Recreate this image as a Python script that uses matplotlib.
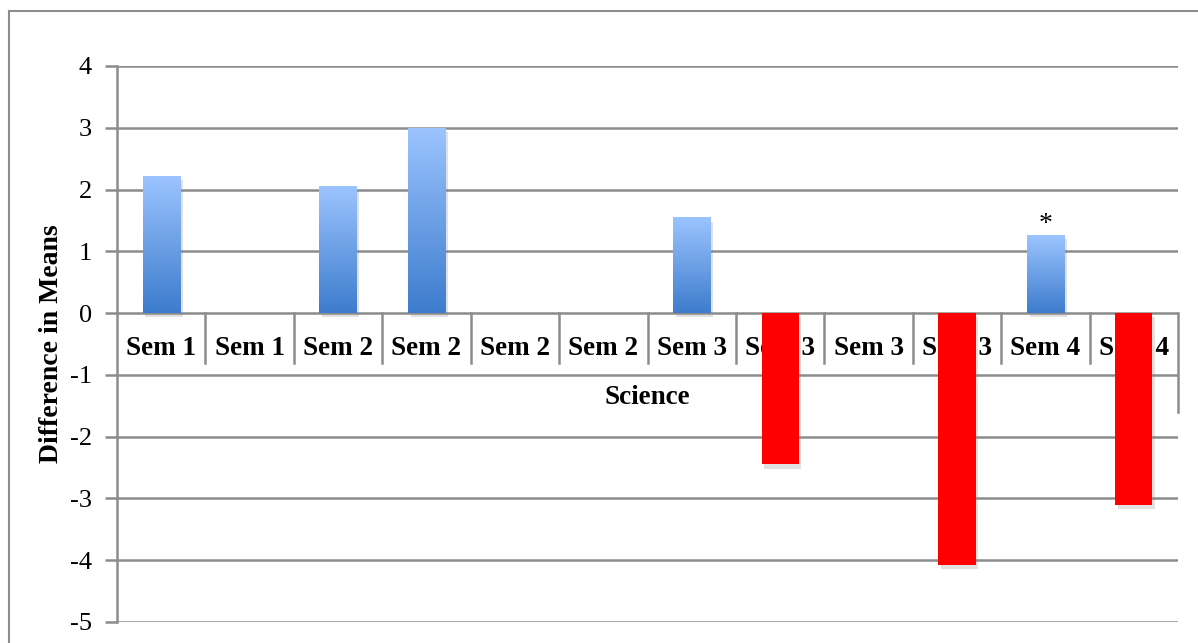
import matplotlib
matplotlib.use('Agg')
import matplotlib.pyplot as plt
import matplotlib.patheffects as pe
import numpy as np
from matplotlib.colors import LinearSegmentedColormap

categories = ['Sem 1', 'Sem 1', 'Sem 2', 'Sem 2', 'Sem 2', 'Sem 2',
              'Sem 3', 'Sem 3', 'Sem 3', 'Sem 3', 'Sem 4', 'Sem 4']
values = [2.22, 0, 2.05, 3.0, 0, 0, 1.55, -2.45, 0, -4.08, 1.26, -3.11]
group_label = 'Science'
starred = [10]
yticks = [-5, -4, -3, -2, -1, 0, 1, 2, 3, 4]

plt.rcParams['font.family'] = ['Liberation Serif', 'DejaVu Serif']
grid_c = '#8c8c8c'

fig = plt.figure(figsize=(11.98, 6.43), dpi=100)
ax = fig.add_axes([117 / 1198, 1 - 622 / 643, 1061 / 1198, 556 / 643])

# outer chart frame (top + left edges visible)
fig.add_artist(plt.Line2D([9 / 1198, 9 / 1198], [0, 1 - 11 / 643], color=grid_c, lw=1.5,
                          transform=fig.transFigure))
fig.add_artist(plt.Line2D([9 / 1198, 1], [1 - 11 / 643, 1 - 11 / 643], color=grid_c, lw=1.5,
                          transform=fig.transFigure))

ax.set_xlim(-0.5, len(categories) - 0.5)
ax.set_ylim(-5, 4)
for s in ['top', 'right', 'bottom']:
    ax.spines[s].set_visible(False)
ax.spines['left'].set_color(grid_c)
ax.spines['left'].set_linewidth(1.8)
for t in yticks:
    ax.axhline(t, color=grid_c, lw=1.8, zorder=1)
ax.set_yticks(yticks)
ax.set_yticklabels([str(t) for t in yticks], fontsize=19)
ax.tick_params(axis='y', length=9, width=1.8, color=grid_c, pad=9)
ax.set_xticks([])

ax.set_ylabel('Difference in Means', fontsize=20, fontweight='bold', labelpad=4)

# category table under the zero line
for i, lab in enumerate(categories):
    ax.text(i, -0.57, lab, ha='center', va='center', fontsize=19.5, fontweight='bold', zorder=2)
for i in range(len(categories) - 1):
    ax.plot([i + 0.5, i + 0.5], [0, -0.81], color=grid_c, lw=1.8, zorder=1)
ax.plot([len(categories) - 0.5] * 2, [0, -1.6], color=grid_c, lw=1.8, zorder=1, clip_on=False)
ax.text((len(categories) - 1) / 2, -1.36, group_label, ha='center', va='center',
        fontsize=19.5, fontweight='bold', zorder=2)

# bars
blue = LinearSegmentedColormap.from_list('b', ['#3d7ccd', '#9cc4ff'])
shadow = [pe.SimplePatchShadow(offset=(2, -3), shadow_rgbFace='#888888', alpha=0.25), pe.Normal()]
w = 0.42
for i, v in enumerate(values):
    if v == 0:
        continue
    if v > 0:
        b = ax.bar(i, v, width=w, color='#6a9fe6', zorder=3, path_effects=shadow)[0]
        grad = np.linspace(0, 1, 256).reshape(-1, 1)
        im = ax.imshow(grad, cmap=blue, origin='lower', aspect='auto',
                       extent=(i - w / 2, i + w / 2, 0, v), zorder=4)
        im.set_clip_path(b)
    else:
        ax.bar(i, v, width=w, color='#ff0000', zorder=3, path_effects=shadow)
for i in starred:
    ax.text(i, values[i] - 0.02, '*', ha='center', va='bottom', fontsize=20, zorder=5)

ax.set_xlim(-0.5, len(categories) - 0.5)
ax.set_ylim(-5, 4)
fig.savefig('out.png', dpi=100)
